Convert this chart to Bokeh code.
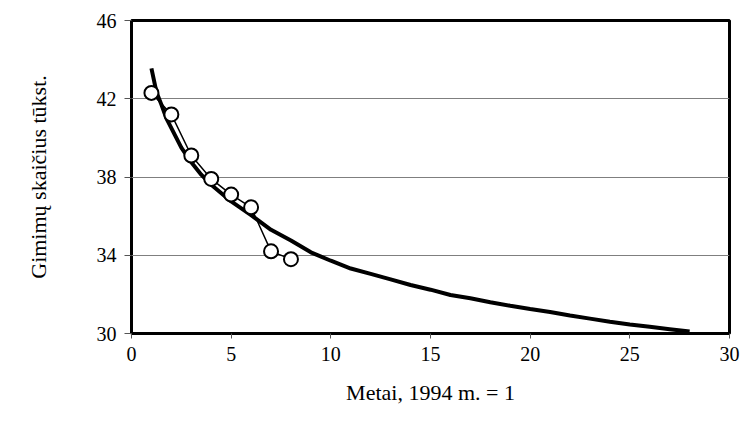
from bokeh.plotting import figure
from bokeh.models import FixedTicker, Range1d
from bokeh.embed import file_html
from bokeh.resources import INLINE

# Observed births (thousands), year index with 1994 = 1
years = [1, 2, 3, 4, 5, 6, 7, 8]
births = [42.3, 41.2, 39.1, 37.9, 37.1, 36.45, 34.2, 33.8]

# Fitted trend curve, extended to year 28
trend_x = [1, 1.25, 1.5, 1.75, 2, 2.5, 3, 3.5, 4, 5, 6, 7, 8, 9, 10,
           11, 12, 13, 14, 15, 16, 17, 18, 19, 20, 21, 22, 23, 24, 25,
           26, 27, 28]
trend_y = [43.55, 42.35, 41.7, 41.0, 40.5, 39.5, 38.75, 38.12, 37.6, 36.75,
           36.05, 35.3, 34.75, 34.15, 33.72, 33.32, 33.05, 32.77, 32.48,
           32.24, 31.97, 31.8, 31.6, 31.42, 31.25, 31.1, 30.92, 30.76,
           30.6, 30.46, 30.34, 30.22, 30.1]

x_ticks = [0, 5, 10, 15, 20, 25, 30]
y_ticks = [30, 34, 38, 42, 46]

FONT = "Liberation Serif"

p = figure(width=742, height=428, output_backend="svg", toolbar_location=None,
           x_range=Range1d(0, 30), y_range=Range1d(30, 46),
           min_border_left=131, min_border_right=13,
           min_border_top=20, min_border_bottom=95)

p.background_fill_color = "white"
p.border_fill_color = "white"
p.outline_line_color = "black"
p.outline_line_width = 3

p.xgrid.grid_line_color = None
p.ygrid.grid_line_color = "#7f7f7f"
p.ygrid.grid_line_width = 1

xax = p.xaxis[0]
yax = p.yaxis[0]
xax.ticker = FixedTicker(ticks=x_ticks)
yax.ticker = FixedTicker(ticks=y_ticks)

for ax in (xax, yax):
    ax.axis_line_color = None
    ax.minor_tick_line_color = None
    ax.major_tick_in = 0
    ax.major_tick_line_color = "#555555"
    ax.major_tick_line_width = 1
    ax.major_label_text_font = FONT
    ax.major_label_text_font_size = "20px"
    ax.major_label_text_font_style = "normal"
    ax.major_label_text_color = "black"
    ax.axis_label_text_font = FONT
    ax.axis_label_text_font_size = "22px"
    ax.axis_label_text_font_style = "normal"
    ax.axis_label_text_color = "black"

yax.major_tick_out = 7
yax.major_label_standoff = 8
yax.axis_label = "Gimimų skaičius tūkst."
yax.axis_label_standoff = 43

xax.major_tick_out = 5
xax.major_label_standoff = 8
xax.axis_label = "Metai, 1994 m. = 1"
xax.axis_label_standoff = 16

p.line(trend_x, trend_y, line_color="black", line_width=4)
p.line(years, births, line_color="black", line_width=1.5)
p.scatter(years, births, marker="circle", size=14, fill_color="white",
          line_color="black", line_width=2)

open("out.html", "w").write(file_html(p, INLINE))
